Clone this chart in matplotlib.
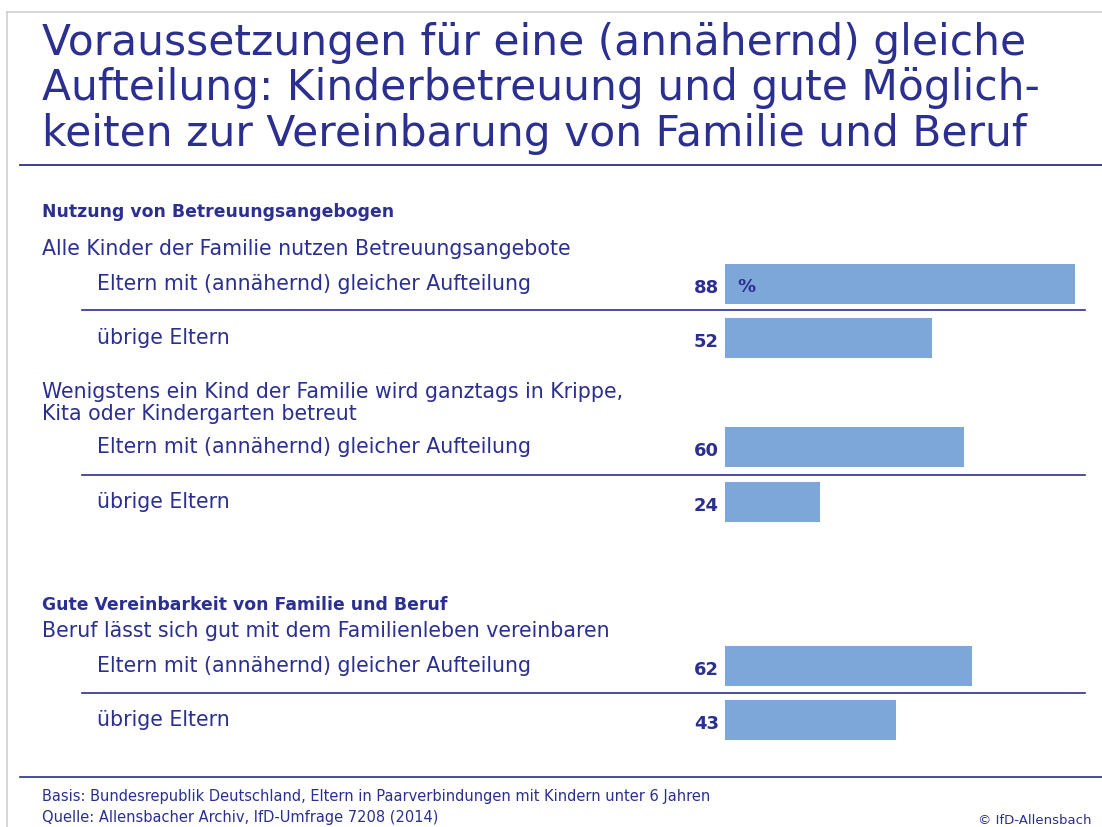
import matplotlib.pyplot as plt
import matplotlib.lines as mlines

plt.rcParams['font.family'] = ['DejaVu Sans']

# ---- data ----
title = ("Voraussetzungen für eine (annähernd) gleiche\n"
         "Aufteilung: Kinderbetreuung und gute Möglich-\n"
         "keiten zur Vereinbarung von Familie und Beruf")
sections = ["Nutzung von Betreuungsangebogen", "Gute Vereinbarkeit von Familie und Beruf"]
questions = ["Alle Kinder der Familie nutzen Betreuungsangebote",
             "Wenigstens ein Kind der Familie wird ganztags in Krippe,\nKita oder Kindergarten betreut",
             "Beruf lässt sich gut mit dem Familienleben vereinbaren"]
groups = ["Eltern mit (annähernd) gleicher Aufteilung", "übrige Eltern"] * 3
values = [88, 52, 60, 24, 62, 43]
footnotes = ["Basis: Bundesrepublik Deutschland, Eltern in Paarverbindungen mit Kindern unter 6 Jahren",
             "Quelle: Allensbacher Archiv, IfD-Umfrage 7208 (2014)"]
copyright_note = "© IfD-Allensbach"

# ---- layout (pixel positions) ----
W, H = 1102, 828
bar_y = [285, 339, 448, 503, 667, 721]
sep_y = [311, 476, 694]
navy = '#2b2f8f'
bar_col = '#7ca7d8'
fs_body = 14.8

fig = plt.figure(figsize=(W / 100, H / 100), dpi=100)
ax = fig.add_axes([0, 0, 1, 1])
ax.set_xlim(0, W)
ax.set_ylim(H, 0)
ax.axis('off')

# grey frame
ax.add_line(mlines.Line2D([7, W], [13, 13], color='#cfcfcf', lw=1.2))
ax.add_line(mlines.Line2D([7, 7], [13, H], color='#cfcfcf', lw=1.2))

# title
ax.text(42, 22, title, fontsize=30.5, color=navy, va='top', ha='left', linespacing=1.1)
ax.add_line(mlines.Line2D([20, W], [166, 166], color=navy, lw=1.3))

# sections & questions
ax.text(42, 212, sections[0], fontsize=12.4, fontweight='bold', color=navy, va='center')
ax.text(42, 249, questions[0], fontsize=fs_body, color=navy, va='center')
ax.text(42, 403, questions[1], fontsize=fs_body, color=navy, va='center', linespacing=1.17)
ax.text(42, 605, sections[1], fontsize=12.4, fontweight='bold', color=navy, va='center')
ax.text(42, 631, questions[2], fontsize=fs_body, color=navy, va='center')

for y, g, v in zip(bar_y, groups, values):
    ax.text(97, y - 1, g, fontsize=fs_body, color=navy, va='center')
    ax.text(719, y + 3, str(v), fontsize=13, fontweight='bold', color=navy, va='center', ha='right')

for y in sep_y:
    ax.add_line(mlines.Line2D([82, 1085], [y, y], color=navy, lw=1.2))

# footer
ax.add_line(mlines.Line2D([20, W], [778, 778], color=navy, lw=1.2))
ax.text(42, 797, footnotes[0], fontsize=10.5, color=navy, va='center')
ax.text(42, 818, footnotes[1], fontsize=10.5, color=navy, va='center')
ax.text(1091, 821, copyright_note, fontsize=9.5, color=navy, va='center', ha='right')

# bars
px_per_unit = 350 / 88
bx0, bx1 = 725, 1100
axb = fig.add_axes([bx0 / W, 0, (bx1 - bx0) / W, 1])
axb.set_xlim(0, (bx1 - bx0) / px_per_unit)
axb.set_ylim(H, 0)
axb.axis('off')
axb.barh(bar_y, values, height=40, color=bar_col, edgecolor='none')
axb.text(3, bar_y[0] + 2, "%", fontsize=13, fontweight='bold', color=navy, va='center')

fig.savefig("out.png", dpi=100)
